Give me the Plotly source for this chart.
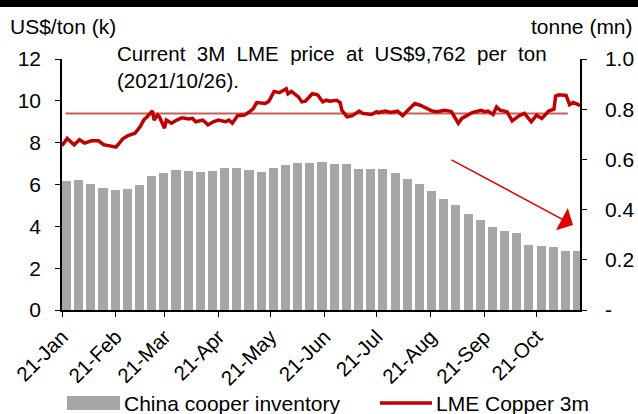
import plotly.graph_objects as go
import pandas as pd

# ---------------- data ----------------
price_dates = [
    "2021-01-01", "2021-01-04", "2021-01-08", "2021-01-11", "2021-01-14", "2021-01-18",
    "2021-01-22", "2021-01-25", "2021-01-27", "2021-02-01", "2021-02-03", "2021-02-05",
    "2021-02-08", "2021-02-12", "2021-02-15", "2021-02-17", "2021-02-19", "2021-02-22",
    "2021-02-23", "2021-02-25", "2021-02-26", "2021-03-01", "2021-03-02", "2021-03-05",
    "2021-03-08", "2021-03-11", "2021-03-15", "2021-03-17", "2021-03-19", "2021-03-23",
    "2021-03-26", "2021-03-29", "2021-04-01", "2021-04-05", "2021-04-07", "2021-04-09",
    "2021-04-12", "2021-04-16", "2021-04-19", "2021-04-21", "2021-04-23", "2021-04-28",
    "2021-04-30", "2021-05-03", "2021-05-06", "2021-05-10", "2021-05-11", "2021-05-13",
    "2021-05-17", "2021-05-19", "2021-05-21", "2021-05-25", "2021-05-28", "2021-05-31",
    "2021-06-02", "2021-06-04", "2021-06-08", "2021-06-10", "2021-06-11", "2021-06-14",
    "2021-06-17", "2021-06-21", "2021-06-23", "2021-06-28", "2021-07-01", "2021-07-02",
    "2021-07-06", "2021-07-09", "2021-07-13", "2021-07-16", "2021-07-19", "2021-07-23",
    "2021-07-26", "2021-07-29", "2021-08-02", "2021-08-05", "2021-08-09", "2021-08-12",
    "2021-08-13", "2021-08-17", "2021-08-19", "2021-08-23", "2021-08-25", "2021-08-30",
    "2021-09-01", "2021-09-03", "2021-09-06", "2021-09-08", "2021-09-10", "2021-09-14",
    "2021-09-17", "2021-09-21", "2021-09-24", "2021-09-28", "2021-10-01", "2021-10-04",
    "2021-10-06", "2021-10-08", "2021-10-11", "2021-10-12", "2021-10-14", "2021-10-18",
    "2021-10-20", "2021-10-22", "2021-10-25", "2021-10-26",
]
price_values = [
    7.85, 8.20, 7.90, 8.14, 7.98, 8.09,
    8.09, 7.90, 7.87, 7.79, 7.98, 8.18,
    8.34, 8.45, 8.77, 9.08, 9.24, 9.52,
    9.08, 9.32, 9.24, 8.69, 9.08, 8.93,
    9.08, 9.19, 9.13, 9.16, 9.00, 9.08,
    8.85, 9.00, 9.08, 9.00, 9.08, 8.93,
    9.29, 9.32, 9.48, 9.63, 9.92, 9.87,
    9.98, 10.45, 10.39, 10.58, 10.34, 10.45,
    10.19, 9.95, 9.98, 10.34, 10.29, 9.95,
    10.03, 9.98, 10.03, 9.92, 9.55, 9.24,
    9.29, 9.51, 9.40, 9.35, 9.48, 9.44,
    9.51, 9.44, 9.51, 9.29, 9.55, 9.87,
    9.79, 9.67, 9.51, 9.48, 9.55, 9.51,
    9.48, 8.93, 9.16, 9.35, 9.44, 9.55,
    9.48, 9.51, 9.35, 9.71, 9.55, 9.48,
    9.04, 9.29, 9.40, 9.00, 9.32, 9.16,
    9.35, 9.51, 9.60, 10.23, 10.29, 10.26,
    9.82, 9.92, 9.82, 9.76,
]

avg_dates = ["2021-01-03", "2021-10-19"]
avg_price = [9.40, 9.40]

inv_week_start = pd.date_range("2021-01-01", periods=43, freq="7D")
inv_values = [
    0.513, 0.519, 0.503, 0.485, 0.478, 0.482, 0.498, 0.533, 0.546, 0.556,
    0.553, 0.548, 0.553, 0.565, 0.567, 0.559, 0.551, 0.564, 0.577, 0.585,
    0.586, 0.591, 0.583, 0.580, 0.563, 0.561, 0.563, 0.545, 0.523, 0.501,
    0.473, 0.443, 0.418, 0.383, 0.358, 0.331, 0.313, 0.305, 0.258, 0.256,
    0.251, 0.237, 0.234,
]

left_ticks = [0, 2, 4, 6, 8, 10, 12]
right_tickvals = [0, 0.2, 0.4, 0.6, 0.8, 1.0]
right_ticktext = ["-", "0.2", "0.4", "0.6", "0.8", "1.0"]
month_ticks = pd.date_range("2021-01-01", "2021-10-01", freq="MS")

# ---------------- style ----------------
FONT = "Arial, 'Liberation Sans', sans-serif"
FS = 21
RED = "#C00000"
GREY = "#A6A6A6"
DAY_MS = 86400000

fig = go.Figure()

fig.add_trace(go.Bar(
    x=inv_week_start + pd.Timedelta(hours=62),
    y=inv_values,
    width=5.2 * DAY_MS,
    marker=dict(color=GREY, line=dict(width=0)),
    name="China cooper inventory",
    yaxis="y",
    showlegend=False,
))

fig.add_trace(go.Scatter(
    x=avg_dates, y=avg_price, mode="lines",
    line=dict(color="#CD5C5C", width=2),
    yaxis="y2", showlegend=False,
))

fig.add_trace(go.Scatter(
    x=price_dates, y=price_values, mode="lines",
    line=dict(color=RED, width=3.5),
    name="LME Copper 3m",
    yaxis="y2", showlegend=False,
))

L, R, T, B = 62, 58, 59, 104
W, H = 638, 414
pw, ph = W - L - R, H - T - B


def px(xp):
    return (xp - L) / pw


def py(yp):
    return (H - B - yp) / ph


fig.update_layout(
    width=W, height=H,
    margin=dict(l=L, r=R, t=T, b=B, autoexpand=False),
    paper_bgcolor="white", plot_bgcolor="white",
    font=dict(family=FONT, size=FS, color="black"),
    bargap=0,
    xaxis=dict(
        type="date",
        range=["2021-01-01", "2021-10-26"],
        tickvals=month_ticks,
        tickformat="%y-%b",
        tickangle=-45,
        ticks="outside", ticklen=5, tickcolor="black",
        showline=True, linecolor="black", linewidth=1.5,
        showgrid=False, zeroline=False, automargin=False,
        tickfont=dict(size=20.5),
    ),
    yaxis=dict(
        side="right",
        range=[0, 1.0],
        tickvals=right_tickvals, ticktext=right_ticktext,
        ticks="outside", ticklen=5, tickcolor="black",
        showline=True, linecolor="black", linewidth=1.5,
        showgrid=False, zeroline=False, automargin=False,
        ticklabelstandoff=14,
    ),
    yaxis2=dict(
        overlaying="y", side="left",
        range=[0, 12],
        tickvals=left_ticks,
        ticks="outside", ticklen=5, tickcolor="black",
        showline=True, linecolor="black", linewidth=1.5,
        showgrid=False, zeroline=False, automargin=False,
        ticklabelstandoff=10,
    ),
    showlegend=False,
)

shapes = [
    # black band at the top of the image
    dict(type="rect", xref="paper", yref="paper", x0=px(0), x1=px(W),
         y0=py(7), y1=py(0), fillcolor="black", line=dict(width=0), layer="above"),
    # legend: grey box
    dict(type="rect", xref="paper", yref="paper", x0=px(67), x1=px(120),
         y0=py(410), y1=py(396), fillcolor=GREY, line=dict(width=0)),
    # legend: red line
    dict(type="line", xref="paper", yref="paper", x0=px(380), x1=px(432),
         y0=py(403), y1=py(403), line=dict(color=RED, width=3.5)),
]
fig.update_layout(shapes=shapes)

annotations = [
    dict(text="US$/ton (k)", xref="paper", yref="paper", x=px(8), y=py(27),
         xanchor="left", yanchor="middle", showarrow=False, font=dict(size=FS)),
    dict(text="tonne (mn)", xref="paper", yref="paper", x=px(635), y=py(27),
         xanchor="right", yanchor="middle", showarrow=False, font=dict(size=FS)),
    dict(text="Current\u00a0 3M\u00a0 LME\u00a0 price\u00a0 at\u00a0 US$9,762\u00a0 per\u00a0 ton<br>(2021/10/26).",
         xref="paper", yref="paper", x=px(115), y=py(40),
         xanchor="left", yanchor="top", align="left", showarrow=False,
         font=dict(size=20.5)),
    dict(text="China cooper inventory", xref="paper", yref="paper", x=px(122), y=py(403),
         xanchor="left", yanchor="middle", showarrow=False, font=dict(size=FS)),
    dict(text="LME Copper 3m", xref="paper", yref="paper", x=px(434), y=py(403),
         xanchor="left", yanchor="middle", showarrow=False, font=dict(size=FS)),
    dict(text="", xref="paper", yref="paper", x=px(573), y=py(225),
         ax=-123, ay=-66, axref="pixel", ayref="pixel",
         showarrow=True, arrowhead=1, arrowsize=2.8, arrowwidth=1.5, arrowcolor="#E00000"),
]
fig.update_layout(annotations=annotations)

fig.write_html(
    "out.html",
    config={"displayModeBar": False},
    post_script="document.body.style.margin='0px';document.body.style.overflow='hidden';",
)
